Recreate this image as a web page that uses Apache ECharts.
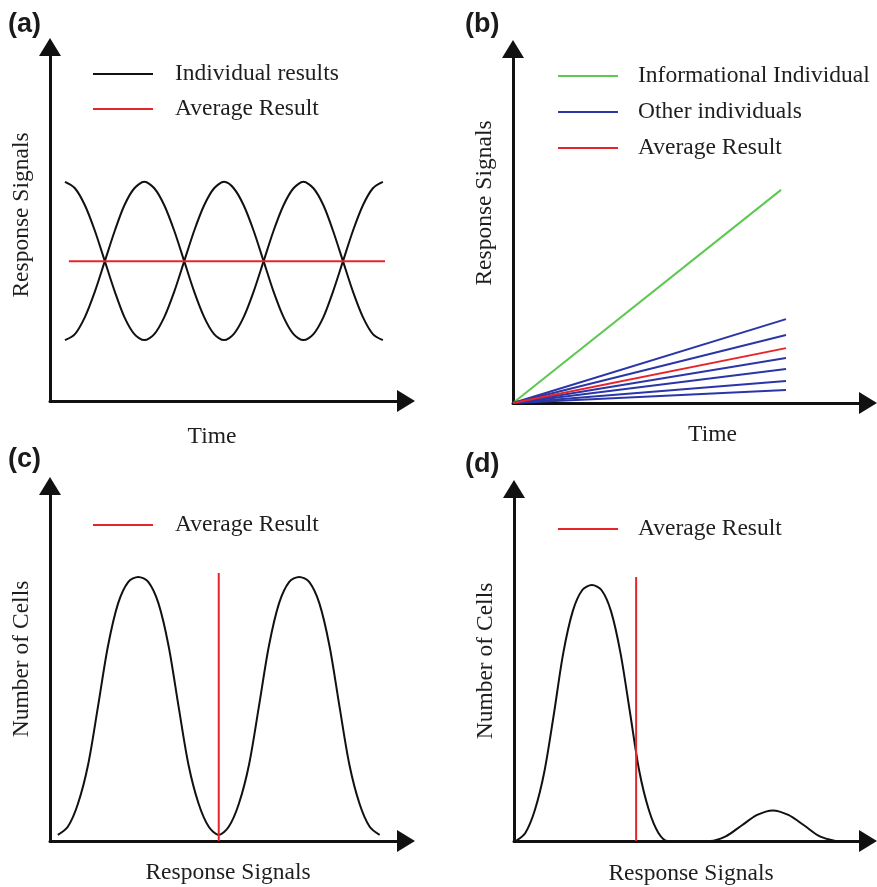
<!DOCTYPE html>
<html>
<head>
<meta charset="utf-8">
<script src="https://cdn.jsdelivr.net/npm/echarts@6/dist/echarts.min.js"></script>
<style>html,body{margin:0;padding:0;background:#fff;}#chart{width:877px;height:887px;}</style>
</head>
<body>
<div id="chart"></div>
<script>
// ---------- Panel (a): oscillating individual results vs time ----------
const aTime = [4.2, 7.0, 9.8, 12.6, 15.4, 18.2, 20.9, 23.7, 26.5, 29.3, 32.1, 34.9, 37.7, 40.5, 43.3, 46.1, 48.9,
               51.6, 54.4, 57.2, 60.0, 62.8, 65.6, 68.4, 71.2, 74.0, 76.8, 79.5, 82.3, 85.1, 87.9, 90.7, 93.5];
const aIndividual1 = [61.9, 60.1, 55.3, 48.1, 39.5, 30.9, 23.7, 18.9, 17.2, 18.9, 23.7, 30.9, 39.5, 48.1, 55.3, 60.1, 61.9,
                      60.1, 55.3, 48.1, 39.5, 30.9, 23.7, 18.9, 17.2, 18.9, 23.7, 30.9, 39.5, 48.1, 55.3, 60.1, 61.9];
const aIndividual2 = [17.2, 18.9, 23.7, 30.9, 39.5, 48.1, 55.3, 60.1, 61.9, 60.1, 55.3, 48.1, 39.5, 30.9, 23.7, 18.9, 17.2,
                      18.9, 23.7, 30.9, 39.5, 48.1, 55.3, 60.1, 61.9, 60.1, 55.3, 48.1, 39.5, 30.9, 23.7, 18.9, 17.2];
const aAverageTime = [5.3, 94.1];
const aAverage = [39.5, 39.5];

// ---------- Panel (b): linear responses vs time ----------
const bInformationalTime = [0, 75.5];
const bInformational = [0, 60.2];
const bTime = [0, 76.9];
const bOtherEnds = [23.7, 19.2, 12.7, 9.6, 6.2, 3.7];
const bAverageEnd = 15.5;

// ---------- Panel (c): bimodal distribution ----------
const cSignal = [2.2, 5.0, 7.85, 10.7, 13.5, 16.3, 19.15, 22.0, 24.8, 27.6, 30.45, 33.3, 36.1, 38.9, 41.75, 44.6, 47.4,
                 50.2, 53.05, 55.9, 58.7, 61.5, 64.35, 67.2, 70.0, 72.8, 75.65, 78.5, 81.3, 84.1, 86.95, 89.8, 92.6];
const cCells = [1.7, 4.0, 10.5, 21.5, 38.0, 55.0, 67.0, 73.0, 74.4, 73.0, 67.0, 55.0, 38.0, 21.5, 10.5, 4.0, 1.7,
                4.0, 10.5, 21.5, 38.0, 55.0, 67.0, 73.0, 74.4, 73.0, 67.0, 55.0, 38.0, 21.5, 10.5, 4.0, 1.7];
const cAverageSignal = 47.4;
const cAverageHeight = [0, 75.5];

// ---------- Panel (d): skewed distribution with small subpopulation ----------
const dSignal = [0.5, 3.2, 5.9, 8.6, 11.3, 13.9, 16.6, 19.3, 22.0, 24.7, 27.4, 30.1, 32.8, 35.4, 38.1, 40.8, 43.5,
                 49.5, 55.4, 59.8, 64.3, 68.7, 73.1, 77.5, 82.0, 86.4, 90.8];
const dCells = [0, 2.3, 8.8, 19.8, 36.3, 53.3, 65.3, 71.3, 72.7, 71.3, 65.3, 53.3, 36.3, 19.8, 8.8, 2.3, 0,
                0, 0, 1.3, 4.4, 7.4, 8.7, 7.4, 4.4, 1.3, 0];
const dAverageSignal = 34.5;
const dAverageHeight = [0, 75];

// ---------- Labels ----------
const panelLabels = ['(a)', '(b)', '(c)', '(d)'];
const xNames = ['Time', 'Time', 'Response Signals', 'Response Signals'];
const yNames = ['Response Signals', 'Response Signals', 'Number of Cells', 'Number of Cells'];

const SERIF = '"Liberation Serif", "Times New Roman", serif';
const FS = 23.5;
const TXT = '#1e1e1e';
const BLACK = '#111111';
const RED = '#e8242a';
const GREEN = '#5cc850';
const BLUE = '#2a36a8';
const SMOOTH = 0.3;

const grids = [
  {left: 50, top: 47, width: 356, height: 354},
  {left: 513, top: 49, width: 355, height: 354},
  {left: 50, top: 486, width: 356, height: 355},
  {left: 514, top: 489, width: 354, height: 355}
];
const xNamePad = [[0, 32, 0, 0], [0, 0, 0, 44], [0, 0, 0, 0], [0, 0, 0, 0]];
const yNamePad = [[0, 0, 0, 18], [0, 0, 0, 46], [0, 0, 0, 9], [0, 0, 0, 8]];
const xNameGap = [24, 20, 20, 21];

function axisLine() {
  return {show: true, onZero: true, symbol: ['none', 'triangle'], symbolSize: [22, 18],
          lineStyle: {color: BLACK, width: 3}};
}
const xAxes = grids.map((g, i) => ({
  type: 'value', gridIndex: i, min: 0, max: 100,
  axisLine: axisLine(), axisTick: {show: false}, axisLabel: {show: false}, splitLine: {show: false},
  name: xNames[i], nameLocation: 'middle', nameGap: xNameGap[i],
  nameTextStyle: {fontFamily: SERIF, fontSize: FS, color: TXT, padding: xNamePad[i]}
}));
const yAxes = grids.map((g, i) => ({
  type: 'value', gridIndex: i, min: 0, max: 100,
  axisLine: axisLine(), axisTick: {show: false}, axisLabel: {show: false}, splitLine: {show: false},
  name: yNames[i], nameLocation: 'middle', nameGap: 16,
  nameTextStyle: {fontFamily: SERIF, fontSize: FS, color: TXT, padding: yNamePad[i]}
}));

function pairs(xs, ys) { return xs.map((x, k) => [x, ys[k]]); }
function line(name, gi, data, color, smooth, z) {
  return {type: 'line', name: name, xAxisIndex: gi, yAxisIndex: gi, data: data,
          symbol: 'none', showSymbol: false, smooth: smooth || false, z: z || 3,
          lineStyle: {color: color, width: 2}, itemStyle: {color: color}, silent: true};
}

const series = [
  line('Individual results', 0, pairs(aTime, aIndividual1), BLACK, SMOOTH),
  line('Individual results', 0, pairs(aTime, aIndividual2), BLACK, SMOOTH),
  line('Average Result', 0, pairs(aAverageTime, aAverage), RED, false, 4),

  line('Informational Individual', 1, pairs(bInformationalTime, bInformational), GREEN),
  ...bOtherEnds.map(v => line('Other individuals', 1, pairs(bTime, [0, v]), BLUE)),
  line('Average Result', 1, pairs(bTime, [0, bAverageEnd]), RED, false, 4),

  line('Cell distribution (c)', 2, pairs(cSignal, cCells), BLACK, SMOOTH),
  line('Average Result', 2, pairs([cAverageSignal, cAverageSignal], cAverageHeight), RED, false, 4),

  line('Cell distribution (d)', 3, pairs(dSignal, dCells), BLACK, SMOOTH),
  line('Average Result', 3, pairs([dAverageSignal, dAverageSignal], dAverageHeight), RED, false, 4)
];

function legend(left, top, names, pad, gap) {
  return {left: left, top: top, orient: 'vertical', itemWidth: 60, itemHeight: 14, itemGap: gap,
          selectedMode: false, data: names, icon: 'path://M0,0L60,0L60,2L0,2Z',
          textStyle: {fontFamily: SERIF, fontSize: FS, color: TXT, padding: [0, 0, 0, pad]}};
}

const option = {
  animation: false,
  backgroundColor: '#ffffff',
  title: panelLabels.map((t, i) => ({
    text: t, left: [8, 465, 8, 465][i], top: [11, 11, 446, 451][i], padding: 0,
    textStyle: {fontFamily: '"Liberation Sans", Arial, sans-serif', fontWeight: 'bold', fontSize: 27, color: '#1a1a1a'}
  })),
  grid: grids,
  xAxis: xAxes,
  yAxis: yAxes,
  legend: [
    legend(88, 57, ['Individual results', 'Average Result'], 17, 11),
    legend(553, 59, ['Informational Individual', 'Other individuals', 'Average Result'], 15, 12),
    legend(88, 508, ['Average Result'], 17, 11),
    legend(553, 512, ['Average Result'], 15, 11)
  ],
  series: series
};

const chart = echarts.init(document.getElementById('chart'), null, {renderer: 'canvas'});
chart.setOption(option);
</script>
</body>
</html>
